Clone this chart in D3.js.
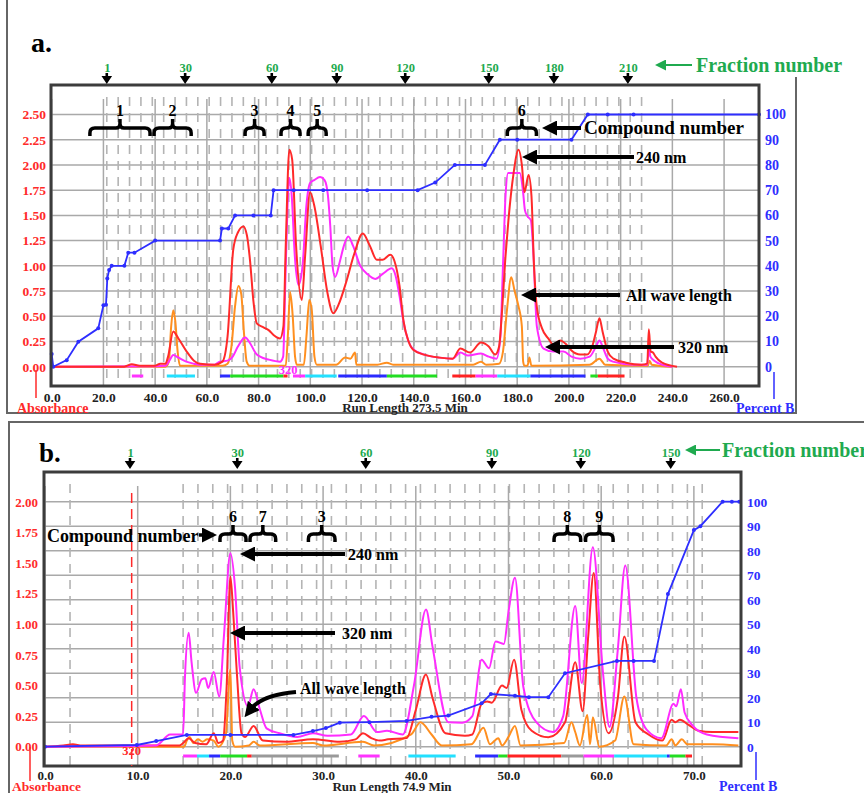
<!DOCTYPE html>
<html>
<head>
<meta charset="utf-8">
<script src="https://cdn.jsdelivr.net/npm/d3@7"></script>
<style>
  body { margin: 0; background: #fff; }
  svg { display: block; }
  text { font-family: "Liberation Serif", "Times New Roman", serif; font-weight: bold; }
</style>
</head>
<body>
<svg id="chart" width="864" height="793"></svg>
<script>
// ---------- panel a data (time in min, absorbance / percent B) ----------
var aRed = [[0,0],[28,0],[31,0.025],[34,0.01],[40,0.01],[42,0.03],[44,0.03],[45,0.1],[47,0.35],[49,0.28],[52.2,0.15],[55,0.06],[57.4,0.03],[63,0.02],[66,0.05],[68,0.3],[70.2,1.16],[72,1.33],[74.1,1.39],[75.5,1.3],[76.7,1.05],[78,0.65],[79.3,0.43],[81.9,0.39],[84,0.36],[86,0.31],[88.3,0.28],[89.6,0.4],[90.5,1.2],[91.9,2.15],[93,2.05],[94.5,1.2],[96.7,0.66],[98,1.1],[99.9,1.73],[101.5,1.6],[104,1.2],[106.5,0.75],[108.9,0.53],[111,0.62],[114,0.85],[117,1.12],[120.3,1.32],[123,1.2],[125.7,1.06],[128,1.06],[130.9,1.11],[132.5,1.05],[134.5,0.8],[136,0.46],[138,0.25],[139.9,0.165],[144,0.12],[150,0.09],[155,0.08],[158,0.18],[161.8,0.14],[166,0.24],[169,0.2],[171.5,0.12],[173,0.2],[174,0.5],[175.5,1.1],[176.6,1.45],[178.5,1.9],[180.5,2.15],[181.8,2.0],[182.8,1.73],[184.4,1.9],[185.5,1.7],[186.5,1.0],[187.6,0.59],[189.6,0.38],[192,0.28],[194,0.22],[196.6,0.26],[199,0.22],[201,0.16],[204.4,0.12],[207,0.12],[209,0.2],[210.5,0.35],[211.8,0.48],[213,0.35],[215,0.15],[217.2,0.08],[222,0.04],[228,0.02],[230.3,0.03],[230.9,0.37],[231.6,0.15],[232.5,0.14],[233.5,0.1],[236,0.04],[241.8,0]];
var aMagenta = [[0,0],[40,0.005],[44,0.01],[45.5,0.06],[47,0.116],[49,0.09],[52,0.05],[55,0.03],[57,0.02],[63,0.02],[65,0.05],[68,0.06],[70,0.1],[72,0.2],[74.8,0.29],[77,0.22],[79,0.13],[80.6,0.1],[84,0.07],[88.3,0.05],[89.5,0.1],[90.3,0.8],[91.2,1.6],[91.9,1.87],[92.8,1.7],[94,1.1],[95.4,0.81],[97,1.0],[98.5,1.6],[99.9,1.82],[101.5,1.85],[103.8,1.88],[105.5,1.85],[106.8,1.7],[107.7,1.4],[108.6,1.0],[109.6,0.89],[111.5,1.05],[113,1.2],[114.7,1.29],[116.5,1.2],[119.3,1.0],[122,0.92],[125.1,0.87],[128,0.92],[131.5,0.975],[133,0.9],[134.5,0.7],[136,0.45],[138,0.25],[139.9,0.17],[144,0.12],[150,0.09],[155,0.08],[158,0.14],[161,0.11],[166,0.13],[169,0.1],[172,0.08],[173.5,0.3],[174.5,1.0],[175.5,1.7],[176.5,1.92],[181,1.92],[182.2,1.75],[183,1.55],[184,1.49],[185.3,1.45],[186.3,1.1],[187.6,0.4],[190.2,0.18],[194,0.15],[197.9,0.15],[201,0.1],[204.4,0.08],[208,0.1],[210.5,0.2],[211.8,0.26],[213,0.2],[215,0.08],[217,0.05],[225,0.02],[230.3,0.02],[230.9,0.2],[231.5,0.1],[233,0.06],[236,0.02],[240,0]];
var aOrange = [[0,0],[44,0],[45.3,0.05],[46.2,0.4],[47,0.56],[47.8,0.45],[48.7,0.15],[49.6,0.01],[66,0.01],[68,0.03],[69.5,0.2],[70.9,0.6],[72.2,0.8],[73.3,0.72],[74.3,0.35],[75.4,0.05],[76.5,0.01],[90.5,0.01],[91.3,0.3],[92.2,0.74],[93.2,0.5],[94.1,0.1],[94.8,0.02],[97.5,0.02],[98.5,0.3],[99.6,0.66],[100.6,0.55],[101.6,0.1],[102.5,0.02],[110,0.02],[113.5,0.09],[115.5,0.08],[117.3,0.14],[117.8,0.02],[126,0.02],[129.6,0.04],[132,0.02],[163,0.02],[166,0.05],[168,0.02],[173,0.03],[174.5,0.15],[176,0.55],[177.7,0.886],[179,0.75],[180.5,0.6],[181.8,0.4],[182.3,0.05],[182.8,0.01],[184,0.01],[184.7,0.09],[185.5,0.01],[208,0.02],[211.8,0.08],[214,0.02],[230.5,0.01],[231.2,0.06],[232,0.02],[240,0]];
var aPercentB = [[0,5],[0.6,0],[5.8,2.6],[10.3,9.9],[18,15.2],[20,24.4],[21,24.6],[21.5,35],[22.2,38.3],[23.2,40],[28.1,40],[29.6,45.2],[32,45.2],[40,50],[65.1,50],[65.8,54.8],[68.3,54.8],[70.9,60],[78,60],[84.7,60],[85.8,70],[93.6,70],[105,70],[122,70],[141.5,70],[148.3,73],[155.9,80],[167.5,80],[173.3,90],[180,90],[201,90],[207.3,100],[215,100],[225,100],[273.5,100]];
var aFractionTicks = [1, 30, 60, 90, 120, 150, 180, 210];
var aFractionTimes = [21.3, 51.6, 85.1, 110.2, 136.7, 169, 194.2, 222.8];
var aFractionBars = [["#ff33ff",31,35.4],["#22e0ff",44.5,55.4],["#2b2bff",65.1,69],["#22dd22",69,89.6],["#ff2222",89.6,91.2],["#ff33ff",93.3,98],["#22e0ff",98,110.2],["#2b2bff",110.8,129.6],["#22dd22",129.6,149],["#ff2222",154.9,163.9],["#ff33ff",163.9,172.3],["#22e0ff",172.3,185.1],["#2b2bff",185.1,206.4],["#22dd22",208.3,211.2],["#ff2222",211.2,221.5]];
var aCompounds = [["1",14.0,38.8],["2",38.8,54.7],["3",74.0,82.9],["4",87.9,96.8],["5",98.4,106.9],["6",175.4,188.2]];
var aTimeTicks = [0,20,40,60,80,100,120,140,160,180,200,220,240,260];
var aAbsTicks = [0,0.25,0.5,0.75,1,1.25,1.5,1.75,2,2.25,2.5];

// ---------- panel b data ----------
var bRed = [[0,0],[2,0.01],[3,0.02],[4,0.01],[14.5,0.01],[14.9,0.03],[15.5,0.07],[16.2,0.03],[17.4,0.02],[18.2,0.11],[18.7,0.03],[19.2,0.05],[19.6,0.5],[20.0,1.39],[20.3,1.1],[20.7,0.6],[21.2,0.11],[21.6,0.08],[22.5,0.17],[23.5,0.05],[26,0.04],[28.9,0.06],[31.8,0.04],[33.5,0.06],[34.3,0.11],[35.2,0.07],[36.1,0.05],[37,0.06],[39,0.07],[40,0.3],[41.1,0.59],[41.8,0.4],[43.2,0.11],[45.3,0.09],[46.1,0.1],[47.1,0.35],[47.7,0.37],[48.2,0.36],[49.3,0.5],[49.8,0.48],[50.6,0.71],[51.4,0.3],[52.5,0.13],[54.3,0.077],[56.1,0.2],[57.2,0.69],[58,0.29],[58.6,0.9],[59.2,1.42],[59.9,0.5],[60.8,0.11],[61.8,0.4],[62.5,0.9],[63.7,0.2],[65.1,0.1],[66.6,0.05],[67.6,0.22],[68.0,0.2],[68.5,0.22],[69.4,0.18],[70.5,0.13],[72,0.12],[74.8,0.12]];
var bMagenta = [[0,0],[12,0.01],[13.5,0.1],[14.9,0.1],[15.1,0.57],[15.5,0.93],[15.8,0.7],[16.3,0.44],[16.9,0.55],[17.3,0.56],[17.6,0.48],[18.2,0.61],[18.8,0.41],[19.3,0.9],[20.0,1.58],[20.5,1.3],[21.0,0.65],[21.9,0.33],[22.5,0.47],[23.2,0.3],[23.9,0.15],[25.3,0.11],[27.2,0.08],[28.9,0.11],[30.5,0.09],[33,0.1],[34.4,0.25],[35.8,0.12],[36.9,0.13],[38.6,0.1],[39.8,0.5],[41.1,1.12],[41.8,0.82],[43.5,0.2],[45,0.196],[46.1,0.25],[47.1,0.71],[47.9,0.64],[48.6,0.86],[49.5,0.84],[50.0,1.1],[50.7,1.38],[51.6,0.49],[53,0.2],[54.8,0.12],[55.9,0.25],[57.2,1.15],[57.9,0.52],[59.1,1.63],[60.2,0.6],[60.9,0.16],[61.8,0.8],[62.6,1.48],[63.8,0.4],[64.9,0.14],[66.5,0.07],[67.8,0.35],[68.1,0.33],[68.6,0.47],[69,0.28],[69.9,0.17],[71.4,0.1],[74.8,0.07]];
var bOrange = [[0,0],[15,0],[15.3,0.05],[15.6,0.08],[16,0.03],[16.5,0.06],[17,0.04],[17.5,0.06],[18.2,0.05],[18.7,0],[19.5,0.1],[20,0.63],[20.2,0.05],[20.5,0],[22,0.01],[22.5,0.04],[23.2,0.01],[28.9,0.03],[30,0.01],[34.3,0.04],[35.5,0.01],[39.5,0.1],[40.5,0.2],[41.7,0.1],[42.8,0.01],[46,0.02],[47.3,0.155],[48,0.02],[48.9,0.07],[49.3,0.01],[50,0.08],[50.7,0.17],[51.3,0.01],[56,0.03],[56.8,0.2],[57.2,0.12],[57.7,0.01],[58.5,0.26],[58.8,0.02],[59.1,0.24],[59.8,0],[61.5,0.05],[62.5,0.41],[63.5,0.02],[67,0.01],[67.6,0.06],[68,0.01],[68.7,0.06],[69.3,0.02],[72,0.02],[74.8,0.01]];
var bPercentB = [[0,0],[9.9,0.7],[12,2.3],[15.3,4.8],[20,4.8],[26.8,4.8],[28.9,6.4],[30.3,7.6],[31.8,9.8],[35,10],[39,10.5],[41.7,12.2],[43.5,12.7],[47.1,17.7],[48.1,21.5],[50.7,20.8],[52.2,20.2],[54.3,20.2],[56.1,30],[61.7,35],[63.5,35],[65.7,35],[67.2,62.3],[70,88.4],[70.7,90],[73.1,100],[74.1,100],[74.9,100]];
var bFractionTicks = [1, 30, 60, 90, 120, 150];
var bFractionTimes = [9.17, 20.74, 34.6, 48.2, 57.8, 67.5];
var bFractionBars = [["#ff33ff",14.9,16.4],["#22e0ff",16.4,17.7],["#2b2bff",17.7,18.9],["#22dd22",18.9,21.8],["#ff2222",21.8,22.3],["#999999",22.3,31.7],["#ff33ff",33.8,36.1],["#22e0ff",39.2,44.3],["#2b2bff",46.4,48.9],["#22dd22",48.9,49.9],["#ff2222",49.9,55.7],["#999999",55.7,58.1],["#ff33ff",58.1,61.4],["#22e0ff",61.4,67.1],["#2b2bff",67.1,67.4],["#22dd22",67.4,69.1],["#ff2222",69.1,69.8]];
var bCompounds = [["6",18.66,21.9],["7",21.9,25.1],["3",28.2,31.5],["8",54.7,58.0],["9",58.1,61.5]];
var bTimeTicks = [0,10,20,30,40,50,60,70];
var bAbsTicks = [0,0.25,0.5,0.75,1,1.25,1.5,1.75,2];

var pctTicks = [0,10,20,30,40,50,60,70,80,90,100];

var RED = "#ff2a2a", MAGENTA = "#ff2cff", ORANGE = "#ff8f1f", BLUE = "#2e2eff", GREEN = "#1faa4f";

var svg = d3.select("#chart");
var defs = svg.append("defs");

// arrow heads: tip at x=10, line ends at x=3 (hidden under the head)
defs.append("marker")
  .attr("id", "head")
  .attr("viewBox", "0 0 10 10")
  .attr("refX", 3).attr("refY", 5)
  .attr("markerUnits", "userSpaceOnUse")
  .attr("markerWidth", 15).attr("markerHeight", 15)
  .attr("orient", "auto")
  .append("path").attr("d", "M10,5 L0,0 L0,10 Z").attr("fill", "#000");

defs.append("marker")
  .attr("id", "ghead")
  .attr("viewBox", "0 0 10 10")
  .attr("refX", 3).attr("refY", 5)
  .attr("markerUnits", "userSpaceOnUse")
  .attr("markerWidth", 11).attr("markerHeight", 11)
  .attr("orient", "auto")
  .append("path").attr("d", "M10,5 L0,0 L0,10 Z").attr("fill", GREEN);

function drawPanel(p) {
  var g = svg.append("g");

  var x = d3.scaleLinear().domain([0, p.runLength]).range([p.x0, p.x1]);
  var yAbs = d3.scaleLinear().domain([0, p.absMax]).range([p.zeroY, p.absTopY]);
  var yPct = d3.scaleLinear().domain([0, 100]).range([p.zeroY, p.pctTopY]);

  // grid: horizontal lines follow the percent B ticks
  g.selectAll(".hgrid").data(pctTicks).enter().append("line")
    .attr("x1", p.left).attr("x2", p.right)
    .attr("y1", function(d) { return yPct(d) }).attr("y2", function(d) { return yPct(d) })
    .attr("stroke", "#a9a9a9").attr("stroke-width", 1.5);

  // dashed fraction-collection lines
  g.selectAll(".dgrid").data(p.dashTimes).enter().append("line")
    .attr("x1", function(d) { return x(d) }).attr("x2", function(d) { return x(d) })
    .attr("y1", p.top + 12).attr("y2", p.bottom)
    .attr("stroke", "#b4b4b4").attr("stroke-width", 1.6)
    .attr("stroke-dasharray", "9,7");

  // solid vertical grid at the time ticks
  g.selectAll(".vgrid").data(p.timeTicks).enter().append("line")
    .attr("x1", function(d) { return x(d) }).attr("x2", function(d) { return x(d) })
    .attr("y1", p.top + 14).attr("y2", p.bottom)
    .attr("stroke", "#a9a9a9").attr("stroke-width", 1.5);

  // fraction colour bars under the baseline
  g.selectAll(".fbar").data(p.bars).enter().append("line")
    .attr("x1", function(d) { return x(d[1]) }).attr("x2", function(d) { return x(d[2]) })
    .attr("y1", p.bottom - 10).attr("y2", p.bottom - 10)
    .attr("stroke", function(d) { return d[0] }).attr("stroke-width", 3);

  var line = d3.line()
    .x(function(d) { return x(d[0]) })
    .y(function(d) { return yAbs(d[1]) })
    .curve(d3.curveMonotoneX);

  p.traces.forEach(function(t) {
    g.append("path").datum(t[0])
      .attr("d", line)
      .attr("fill", "none")
      .attr("stroke", t[1])
      .attr("stroke-width", 2)
      .attr("stroke-linejoin", "round");
  });

  // percent B gradient
  var pctLine = d3.line()
    .x(function(d) { return x(d[0]) })
    .y(function(d) { return yPct(d[1]) });
  g.append("path").datum(p.pct)
    .attr("d", pctLine).attr("fill", "none")
    .attr("stroke", BLUE).attr("stroke-width", 1.8);
  g.selectAll(".pdot").data(p.pct).enter().append("circle")
    .attr("cx", function(d) { return x(d[0]) })
    .attr("cy", function(d) { return yPct(d[1]) })
    .attr("r", 2).attr("fill", BLUE);

  // frame
  g.append("rect")
    .attr("x", p.left).attr("y", p.top)
    .attr("width", p.right - p.left).attr("height", p.bottom - p.top)
    .attr("fill", "none").attr("stroke", "#3c3c3c").attr("stroke-width", 3);

  // axes
  var yAxisL = d3.axisLeft(yAbs).tickValues(p.absTicks).tickFormat(d3.format(".2f")).tickSize(0).tickPadding(p.left - p.leftLabelX);
  g.append("g").attr("transform", "translate(" + p.left + ",0)").call(yAxisL)
    .call(function(s) { s.select(".domain").remove() })
    .selectAll("text").attr("fill", "#ff2a2a").style("font-size", p.tickFont + "px")
    .style("font-family", "Liberation Serif").style("font-weight", "bold");

  var yAxisR = d3.axisRight(yPct).tickValues(pctTicks).tickSize(0).tickPadding(6);
  g.append("g").attr("transform", "translate(" + p.right + ",0)").call(yAxisR)
    .call(function(s) { s.select(".domain").remove() })
    .selectAll("text").attr("fill", BLUE).style("font-size", (p.tickFont + 0.5) + "px")
    .style("font-family", "Liberation Serif").style("font-weight", "bold");

  var xAxis = d3.axisBottom(x).tickValues(p.timeTicks).tickFormat(d3.format(".1f")).tickSize(0).tickPadding(p.xPad);
  g.append("g").attr("transform", "translate(0," + p.bottom + ")").call(xAxis)
    .call(function(s) { s.select(".domain").remove() })
    .selectAll("text").attr("fill", "#222").style("font-size", p.tickFont + "px")
    .style("font-family", "Liberation Serif").style("font-weight", "bold");

  // fraction number ticks on top
  var fAxis = d3.axisTop(x).tickValues(p.fracTimes)
    .tickFormat(function(d, i) { return p.fracNums[i] }).tickSize(0).tickPadding(p.fracPad);
  g.append("g").attr("transform", "translate(0," + p.fracY + ")").call(fAxis)
    .call(function(s) { s.select(".domain").remove() })
    .selectAll("text").attr("fill", GREEN).style("font-size", "12.5px")
    .style("font-family", "Liberation Serif").style("font-weight", "bold");
  g.selectAll(".farrow").data(p.fracTimes).enter().append("path")
    .attr("d", function(d) {
      var cx = x(d), y0 = p.fracY;
      return "M" + (cx - 1.3) + "," + y0 + "h2.6v3h4l-5.3,8l-5.3,-8h4z";
    })
    .attr("fill", "#000");

  // compound brackets
  p.compounds.forEach(function(c) {
    var xa = x(c[1]) + 2, xb = x(c[2]) - 2, xm = (xa + xb) / 2;
    var yb = p.braceY, r = 5;
    var d = "M" + xa + "," + (yb + 8) +
      " V" + (yb + r) + " Q" + xa + "," + yb + " " + (xa + r) + "," + yb +
      " H" + (xm - 4) + " Q" + xm + "," + yb + " " + xm + "," + (yb - 4) +
      " V" + (yb - 9) +
      " M" + xm + "," + (yb - 4) + " Q" + xm + "," + yb + " " + (xm + 4) + "," + yb +
      " H" + (xb - r) + " Q" + xb + "," + yb + " " + xb + "," + (yb + r) +
      " V" + (yb + 8);
    g.append("path").attr("d", d).attr("fill", "none").attr("stroke", "#000").attr("stroke-width", 3.5);
    g.append("text").attr("x", xm).attr("y", yb - 12).attr("text-anchor", "middle")
      .style("font-size", "16px").text(c[0]);
  });

  return { x: x, yAbs: yAbs, g: g };
}

// straight arrow from (x1,y1) with its tip at (tx,ty)
function arrow(x1, y1, tx, ty, w, id, color) {
  var dx = tx - x1, dy = ty - y1, len = Math.sqrt(dx * dx + dy * dy);
  var back = id === "ghead" ? 7.7 : 10.5;
  svg.append("line").attr("x1", x1).attr("y1", y1)
    .attr("x2", tx - dx / len * back).attr("y2", ty - dy / len * back)
    .attr("stroke", color || "#000").attr("stroke-width", w || 4)
    .attr("marker-end", "url(#" + (id || "head") + ")");
}
function label(txt, xx, yy, size, color, anchor) {
  return svg.append("text").attr("x", xx).attr("y", yy)
    .attr("text-anchor", anchor || "start")
    .attr("fill", color || "#000").style("font-size", size + "px").text(txt);
}

// ---------------- panel a ----------------
svg.append("path").attr("d", "M7,0 V413 H796 V77").attr("fill", "none").attr("stroke", "#666").attr("stroke-width", 2);

drawPanel({
  left: 51, top: 85, right: 759, bottom: 386,
  x0: 51.7, x1: 759, runLength: 273.5,
  zeroY: 366.7, absTopY: 114.5, pctTopY: 114.5, absMax: 2.5,
  leftLabelX: 46, tickFont: 13.5, xPad: 6,
  absTicks: aAbsTicks, timeTicks: aTimeTicks,
  dashTimes: d3.range(21.3, 232, 4.4),
  bars: aFractionBars,
  traces: [[aOrange, ORANGE], [aMagenta, MAGENTA], [aRed, RED]],
  pct: aPercentB,
  fracTimes: aFractionTimes, fracNums: aFractionTicks, fracY: 73, fracPad: 1,
  compounds: aCompounds, braceY: 128
});

label("a.", 31, 52, 28, "#000");
label("Fraction number", 696, 72, 20, GREEN);
arrow(692, 65, 655, 65, 2, "ghead", GREEN);

arrow(581, 128, 542, 128);
label("Compound number", 584, 134, 19);
arrow(634, 157, 522, 157);
label("240 nm", 636, 162.5, 16);
arrow(620, 295, 521, 295);
label("All wave length", 626, 300.5, 16);
arrow(674, 347, 545, 347);
label("320 nm", 678, 353, 16);
label("320", 288, 374, 12.5, MAGENTA, "middle");

label("Absorbance", 17, 413, 14, RED);
svg.append("line").attr("x1", 36).attr("x2", 36).attr("y1", 370).attr("y2", 398).attr("stroke", RED).attr("stroke-width", 1.5);
label("Percent B", 736, 413, 14, BLUE);
svg.append("line").attr("x1", 774).attr("x2", 774).attr("y1", 372).attr("y2", 399).attr("stroke", BLUE).attr("stroke-width", 1.5);
label("Run Length 273.5 Min", 405, 412, 13, "#222", "middle");

// ---------------- panel b ----------------
svg.append("path").attr("d", "M9,793 V422 H864").attr("fill", "none").attr("stroke", "#666").attr("stroke-width", 2);

var pb = drawPanel({
  left: 44, top: 472, right: 741, bottom: 766,
  x0: 45, x1: 739.3, runLength: 74.9,
  zeroY: 746.7, absTopY: 501.9, pctTopY: 501.7, absMax: 2,
  leftLabelX: 38, tickFont: 13, xPad: 5,
  absTicks: bAbsTicks, timeTicks: bTimeTicks,
  dashTimes: [2.7].concat(d3.range(14.9, 71, 1.6)),
  bars: bFractionBars,
  traces: [[bOrange, ORANGE], [bRed, RED], [bMagenta, MAGENTA]],
  pct: bPercentB,
  fracTimes: bFractionTimes, fracNums: bFractionTicks, fracY: 458, fracPad: 1,
  compounds: bCompounds, braceY: 534
});

// red injection marker
pb.g.append("line")
  .attr("x1", pb.x(9.35)).attr("x2", pb.x(9.35))
  .attr("y1", 493).attr("y2", 766)
  .attr("stroke", RED).attr("stroke-width", 1.5).attr("stroke-dasharray", "10,6");
label("320", pb.x(9.35), 755, 12.5, RED, "middle");

label("b.", 39, 462, 27, "#000");
label("Fraction number", 722, 457, 20, GREEN);
arrow(720, 450, 685, 450, 2, "ghead", GREEN);

label("Compound number", 47, 541.5, 18);
arrow(199, 535, 217, 535, 3.5);
arrow(345, 554, 240, 554);
label("240 nm", 348, 559.5, 16);
arrow(335, 633, 230, 633);
label("320 nm", 342, 638.5, 16);
svg.append("path").attr("d", "M296,692 Q262,695 251,709")
  .attr("fill", "none").attr("stroke", "#000").attr("stroke-width", 4).attr("marker-end", "url(#head)");
label("All wave length", 300, 693.5, 16);

label("Absorbance", 12, 791, 13.5, RED);
svg.append("line").attr("x1", 30).attr("x2", 30).attr("y1", 747).attr("y2", 781).attr("stroke", RED).attr("stroke-width", 1.5);
label("Percent B", 719, 791, 14, BLUE);
svg.append("line").attr("x1", 756).attr("x2", 756).attr("y1", 752).attr("y2", 780).attr("stroke", BLUE).attr("stroke-width", 1.5);
label("Run Length 74.9 Min", 392, 791, 13, "#222", "middle");
</script>
</body>
</html>
